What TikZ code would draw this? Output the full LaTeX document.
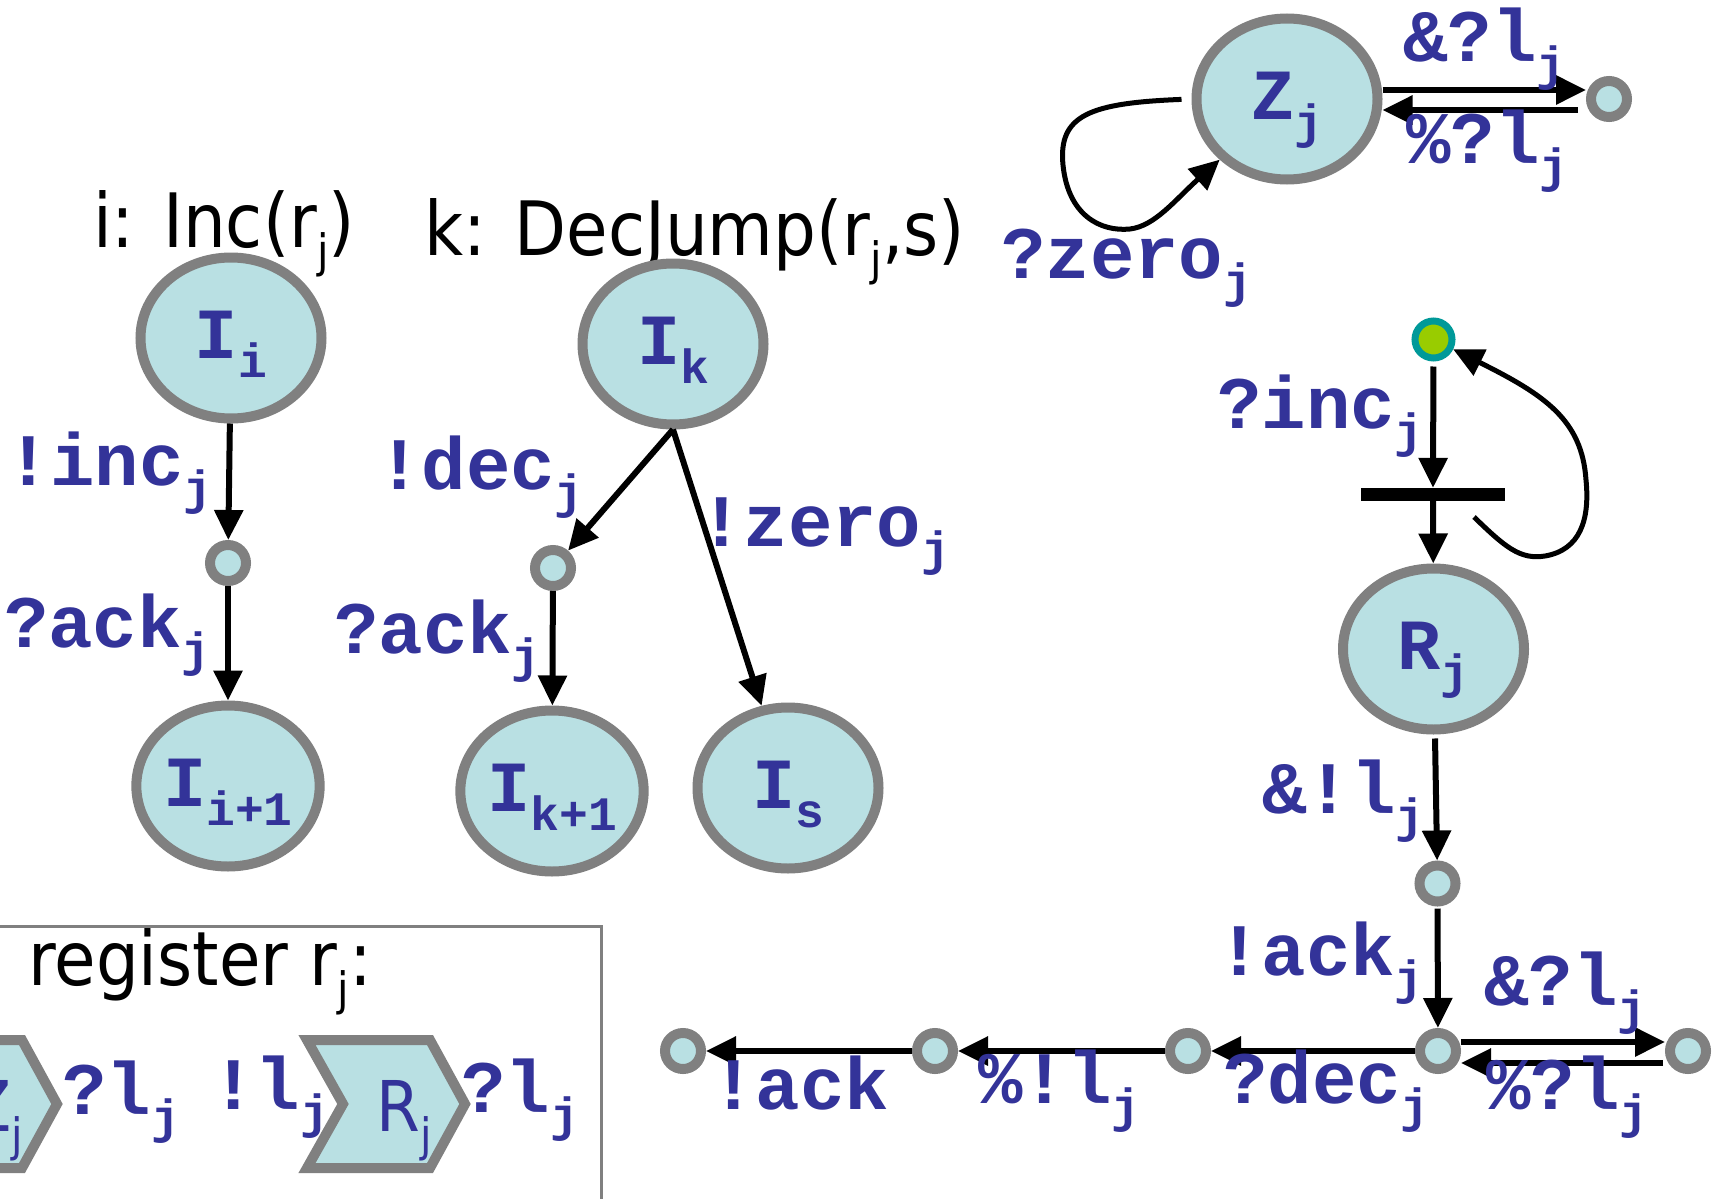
\documentclass[tikz,border=0pt]{standalone}
\usepackage{fontspec}
\setmainfont{DejaVu Sans}[FakeStretch=0.9]
\newfontfamily\monofam{Liberation Mono}
\usetikzlibrary{shapes.geometric,arrows.meta}
\definecolor{nodefill}{HTML}{B9E0E3}
\definecolor{nodeline}{HTML}{808080}
\definecolor{txtblue}{HTML}{333399}
\definecolor{grnfill}{HTML}{99CC00}
\definecolor{grnline}{HTML}{009999}
\newcommand\monosub[1]{\raisebox{-19pt}{\fontsize{48}{48}\selectfont #1}}
\newcommand\sanssub[1]{\raisebox{-20pt}{\fontsize{46}{46}\selectfont #1}}
\tikzset{
  bignode/.style={ellipse, draw=nodeline, fill=nodefill, line width=10pt,
    minimum width=181pt, minimum height=161pt, inner sep=0pt,
    text height=40pt, text depth=0pt, text=txtblue,
    font=\monofam\bfseries\fontsize{72}{72}\selectfont},
  smallnode/.style={circle, draw=nodeline, fill=nodefill, line width=10pt,
    minimum size=36pt, inner sep=0pt},
  greennode/.style={circle, draw=grnline, fill=grnfill, line width=7pt,
    minimum size=37pt, inner sep=0pt},
  elab/.style={anchor=base west, inner sep=0pt, text=txtblue,
    font=\monofam\bfseries\fontsize{74}{74}\selectfont},
  title/.style={anchor=base west, inner sep=0pt, text=black,
    font=\fontsize{75}{75}\selectfont},
  arr/.style={line width=6pt, -{Triangle[width=28pt,length=30pt]}},
  looparr/.style={line width=5pt, -{Triangle[width=28pt,length=30pt]}},
  chevron/.style={draw=nodeline, fill=nodefill, line width=10pt, line join=miter},
  chevtext/.style={anchor=base, inner sep=0pt, text=txtblue,
    font=\fontsize{70}{70}\selectfont}
}
\begin{document}
\begin{tikzpicture}[x=1pt,y=-1pt]
\useasboundingbox (0,0) rectangle (1722,1199);
\fill[white] (0,0) rectangle (1722,1199);
\clip (0,0) rectangle (1722,1199);

% titles
\node[title] (t1) at (93,247) {i: Inc(r\sanssub{j})};
\node[title] (t2) at (424,255) {k: DecJump(r\sanssub{j},s)};

% Inc gadget
\node[bignode] (Ii) at (231,338) {I\monosub{i}};
\node[smallnode] (c1) at (228,563) {};
\node[bignode] (Ii1) at (228,786) {I\monosub{i+1}};
\draw[arr] (Ii) -- (c1);
\draw[arr] (c1) -- (Ii1);
\node[elab] (l1) at (6,485) {!inc\monosub{j}};
\node[elab] (l2) at (4,647) {?ack\monosub{j}};

% DecJump gadget
\node[bignode] (Ik) at (673,344) {I\monosub{k}};
\node[smallnode] (c2) at (553,568) {};
\node[bignode] (Ik1) at (552,791) {I\monosub{k+1}};
\node[bignode] (Is) at (788,788) {I\monosub{s}};
\draw[arr] (Ik.south) -- (c2);
\draw[arr] (Ik.south) -- (Is);
\draw[arr] (c2) -- (Ik1);
\node[elab] (l3) at (377,489) {!dec\monosub{j}};
\node[elab] (l4) at (334,653) {?ack\monosub{j}};
\node[elab] (l5) at (699,546) {!zero\monosub{j}};

% Z node
\node[bignode] (Zj) at (1287,99) {Z\monosub{j}};
\node[smallnode] (Zr) at (1609,99) {};
\draw[arr] ([yshift=9pt]Zj.east) -- ([yshift=9pt]Zr.west);
\draw[arr, shorten <=8pt] ([yshift=-11pt]Zr.west) -- ([yshift=-11pt]Zj.east);
\draw[looparr, shorten <=10pt] (Zj.west) .. controls (1090,103) and (1058,115) .. (1063,165)
   .. controls (1068,215) and (1100,232) .. (1130,229)
   .. controls (1155,226) and (1175,200) .. (Zj);
\node[elab] (l6) at (1001,278) {?zero\monosub{j}};
\node[elab] (l7) at (1403,62) {\&?l\monosub{j}};
\node[elab] (l8) at (1406,163) {\%?l\monosub{j}};

% R gadget
\node[greennode] (gr) at (1433.5,339.5) {};
\node[fill=black, minimum width=144pt, minimum height=13pt, inner sep=0pt] (bar) at (1433,494.5) {};
\node[bignode] (Rj) at (1433.5,649) {R\monosub{j}};
\node[smallnode] (Rc) at (1437.5,883.5) {};
\draw[arr, shorten <=5pt] (gr) -- (bar);
\draw[arr] (bar) -- (Rj);
\coordinate (gls) at (1474,517);
\draw[looparr] (gls) .. controls (1505,547) and (1520,560) .. (1545,556)
   .. controls (1580,550) and (1590,520) .. (1586,480)
   .. controls (1582,420) and (1545,395) .. (gr);
\draw[arr, shorten <=4pt] (Rj) -- (Rc);
\node[elab] (l9) at (1217,428) {?inc\monosub{j}};
\node[elab] (l10) at (1262,813) {\&!l\monosub{j}};

% bottom chain
\node[smallnode] (ch1) at (1438,1051) {};
\node[smallnode] (ch2) at (1688,1051) {};
\node[smallnode] (ch3) at (1188,1051) {};
\node[smallnode] (ch4) at (935,1051) {};
\node[smallnode] (ch5) at (683,1051) {};
\draw[arr, shorten <=2pt] (Rc) -- (ch1);
\draw[arr] ([yshift=9pt]ch1.east) -- ([yshift=9pt]ch2.west);
\draw[arr, shorten <=2pt] ([yshift=-12pt]ch2.west) -- ([yshift=-12pt]ch1.east);
\draw[arr] (ch1) -- (ch3);
\draw[arr] (ch3) -- (ch4);
\draw[arr] (ch4) -- (ch5);
\node[elab] (l11) at (1217,975) {!ack\monosub{j}};
\node[elab] (l12) at (1484,1005) {\&?l\monosub{j}};
\node[elab] (l13) at (1486,1109) {\%?l\monosub{j}};
\node[elab] (l14) at (1223,1103) {?dec\monosub{j}};
\node[elab] (l15) at (978,1103) {\%!l\monosub{j}};
\node[elab] (l16) at (711,1109) {!ack};

% register box
\draw[nodeline, line width=3pt] (-20,926) rectangle (601,1240);
\node[title] (t3) at (28,985) {register r\sanssub{j}:};
\draw[chevron] (-101,1040) -- (22,1040) -- (57,1104) -- (22,1168) -- (-101,1168) -- (-65,1104) -- cycle;
\node[chevtext] (zt) at (-4,1131) {Z\sanssub{j}};
\draw[chevron] (307,1040) -- (430,1040) -- (465,1104) -- (430,1168) -- (307,1168) -- (343,1104) -- cycle;
\node[chevtext] (rt) at (404,1131) {R\sanssub{j}};
\node[elab] (l17) at (62,1114) {?l\monosub{j}};
\node[elab] (l18) at (211,1109) {!l\monosub{j}};
\node[elab] (l19) at (461,1112) {?l\monosub{j}};
\end{tikzpicture}
\end{document}
